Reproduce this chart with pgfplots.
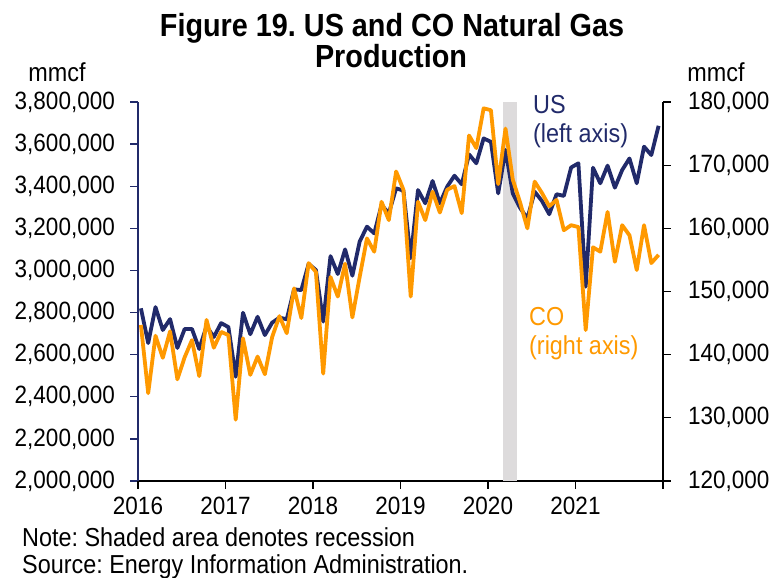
\documentclass[border=0pt]{standalone}
\usepackage{fontspec}
\setmainfont[FakeStretch=0.9]{Liberation Sans}
\usepackage{pgfplots}
\pgfplotsset{compat=1.18}
\usepackage{pgfplotstable}
\definecolor{usnavy}{RGB}{33,42,106}
\definecolor{coorange}{RGB}{255,153,0}
\definecolor{recgray}{RGB}{221,219,220}
\frenchspacing

\pgfplotstableread{
m us co
0 2820000 144700
1 2655000 133900
2 2826000 143000
3 2717000 139500
4 2769000 143700
5 2632000 136100
6 2722000 139600
7 2722000 142300
8 2627000 136600
9 2735000 145500
10 2684000 141100
11 2750000 143600
12 2731000 143100
13 2495000 129700
14 2799000 142600
15 2697000 136800
16 2780000 139700
17 2693000 136900
18 2752000 142800
19 2776000 146100
20 2768000 143400
21 2910000 150500
22 2907000 145800
23 3031000 154500
24 3002000 153100
25 2757000 137000
26 3068000 152300
27 2983000 149200
28 3100000 154400
29 2975000 145900
30 3137000 152300
31 3208000 158400
32 3176000 156300
33 3311000 164200
34 3271000 161300
35 3390000 169000
36 3379000 166100
37 3058000 149200
38 3382000 164200
39 3319000 161300
40 3425000 165800
41 3319000 162500
42 3398000 166100
43 3450000 166700
44 3409000 162400
45 3551000 174700
46 3509000 172700
47 3627000 179000
48 3611000 178700
49 3366000 167000
50 3572000 175800
51 3365000 167700
52 3297000 164100
53 3247000 160000
54 3374000 167400
55 3330000 165600
56 3267000 163500
57 3362000 164500
58 3354000 159700
59 3489000 160500
60 3509000 160200
61 2923000 143900
62 3488000 157000
63 3414000 156300
64 3498000 162600
65 3393000 154700
66 3477000 160500
67 3532000 158900
68 3414000 153400
69 3588000 160500
70 3548000 154500
71 3687000 155800
}\gasdata

\pgfplotsset{
  common/.style={
    at={(138pt,-481pt)}, anchor=south west,
    scale only axis, width=525pt, height=379pt,
    xmin=2016, xmax=2022, clip=false,
    tick label style={font=\fontsize{25}{28}\selectfont, inner sep=0pt},
    scaled y ticks=false,
    yticklabel style={/pgf/number format/fixed, /pgf/number format/precision=0, /pgf/number format/1000 sep={,}, /pgf/number format/assume math mode=true},
  }
}

\begin{document}
\begin{tikzpicture}[x=1pt,y=1pt]
\useasboundingbox (0,0) rectangle (772,-578);

\begin{axis}[common,
  ymin=2000000, ymax=3800000,
  axis lines*=left,
  xtick pos=left, ytick pos=left,
  tick align=outside, major tick length=8pt,
  x axis line style={-, black, line width=1.3pt},
  y axis line style={-, usnavy, line width=1.6pt},
  xtick={2016,2017,2018,2019,2020,2021,2022},
  xticklabels={2016,2017,2018,2019,2020,2021,{}},
  y tick style={usnavy, line width=1.3pt},
  ytick={2000000,2200000,2400000,2600000,2800000,3000000,3200000,3400000,3600000,3800000},
  yticklabel style={xshift=-15pt},
  xticklabel style={yshift=-8pt},
]
\addplot[fill=recgray, draw=none] coordinates {(2020.167,2000000) (2020.333,2000000) (2020.333,3800000) (2020.167,3800000)} -- cycle;
\addplot[usnavy, line width=3.8pt, line join=round] table[x expr={2016+(\thisrow{m}+0.4)/12}, y=us] {\gasdata};
\pgfplotsinvokeforeach{2016,2017,2018,2019,2020,2021,2022}{
  \draw[black, line width=1.3pt] (axis cs:#1,2000000) -- ([yshift=-8pt]axis cs:#1,2000000);
}
\end{axis}

\begin{axis}[common,
  ymin=120000, ymax=180000,
  axis y line*=right, axis x line=none,
  tick align=outside, major tick length=8pt,
  y axis line style={-, black, line width=1.3pt},
  ytick style={black, line width=1.3pt},
  ytick={120000,130000,140000,150000,160000,170000,180000},
  yticklabel style={xshift=17pt},
]
\addplot[coorange, line width=3.8pt, line join=round] table[x expr={2016+(\thisrow{m}+0.4)/12}, y=co] {\gasdata};
\end{axis}

\node[font=\bfseries\fontsize{32}{36}\selectfont, anchor=base] at (392,-37) {Figure 19. US and CO Natural Gas};
\node[font=\bfseries\fontsize{32}{36}\selectfont, anchor=base] at (391,-68) {Production};
\node[font=\fontsize{26}{29}\selectfont, anchor=base] at (57,-82) {mmcf};
\node[font=\fontsize{26}{29}\selectfont, anchor=base] at (716,-82) {mmcf};
\node[font=\fontsize{26}{29}\selectfont, text=usnavy, anchor=north west, align=left, inner sep=0pt] at (533,-95) {US\\(left axis)};
\node[font=\fontsize{26}{29}\selectfont, text=coorange, anchor=north west, align=left, inner sep=0pt] at (529,-307) {CO\\(right axis)};
\node[font=\fontsize{26}{29}\selectfont, anchor=base west, inner sep=0pt] at (22,-546) {Note: Shaded area denotes recession};
\node[font=\fontsize{26}{29}\selectfont, anchor=base west, inner sep=0pt] at (22,-573) {Source: Energy Information Administration.};
\end{tikzpicture}
\end{document}
